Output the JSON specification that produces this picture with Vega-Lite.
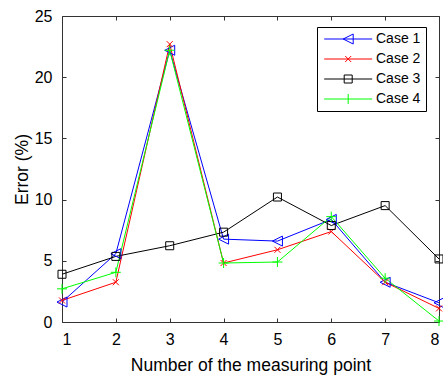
{
  "$schema": "https://vega.github.io/schema/vega-lite/v6.json",
  "width": 377,
  "height": 306,
  "autosize": {"type": "none"},
  "padding": {"left": 62, "top": 16, "right": 4, "bottom": 55},
  "background": "white",
  "config": {
    "view": {"stroke": "#333333", "strokeWidth": 1},
    "font": "Liberation Sans",
    "axis": {
      "domain": false,
      "grid": false,
      "tickColor": "#333333",
      "tickSize": -4,
      "labelFont": "Liberation Sans",
      "labelFontSize": 16,
      "labelColor": "#000000",
      "titleFont": "Liberation Sans",
      "titleFontSize": 17.5,
      "titleFontWeight": "normal",
      "titleColor": "#000000"
    }
  },
  "data": {
    "values": [
      {"case": "Case 1", "point": 1, "error": 1.63},
      {"case": "Case 1", "point": 2, "error": 5.58},
      {"case": "Case 1", "point": 3, "error": 22.2},
      {"case": "Case 1", "point": 4, "error": 6.77},
      {"case": "Case 1", "point": 5, "error": 6.61},
      {"case": "Case 1", "point": 6, "error": 8.38},
      {"case": "Case 1", "point": 7, "error": 3.25},
      {"case": "Case 1", "point": 8, "error": 1.57},
      {"case": "Case 2", "point": 1, "error": 1.76},
      {"case": "Case 2", "point": 2, "error": 3.25},
      {"case": "Case 2", "point": 3, "error": 22.7},
      {"case": "Case 2", "point": 4, "error": 4.82},
      {"case": "Case 2", "point": 5, "error": 5.9},
      {"case": "Case 2", "point": 6, "error": 7.39},
      {"case": "Case 2", "point": 7, "error": 3.25},
      {"case": "Case 2", "point": 8, "error": 1.11},
      {"case": "Case 3", "point": 1, "error": 3.9},
      {"case": "Case 3", "point": 2, "error": 5.36},
      {"case": "Case 3", "point": 3, "error": 6.23},
      {"case": "Case 3", "point": 4, "error": 7.34},
      {"case": "Case 3", "point": 5, "error": 10.21},
      {"case": "Case 3", "point": 6, "error": 7.88},
      {"case": "Case 3", "point": 7, "error": 9.51},
      {"case": "Case 3", "point": 8, "error": 5.15},
      {"case": "Case 4", "point": 1, "error": 2.71},
      {"case": "Case 4", "point": 2, "error": 4.06},
      {"case": "Case 4", "point": 3, "error": 22.2},
      {"case": "Case 4", "point": 4, "error": 4.82},
      {"case": "Case 4", "point": 5, "error": 4.9},
      {"case": "Case 4", "point": 6, "error": 8.61},
      {"case": "Case 4", "point": 7, "error": 3.58},
      {"case": "Case 4", "point": 8, "error": 0.08}
    ]
  },
  "layer": [
    {
      "mark": {"type": "line", "strokeWidth": 1},
      "encoding": {
        "x": {
          "field": "point",
          "type": "quantitative",
          "scale": {"domain": [1, 8], "nice": false, "zero": false},
          "axis": {
            "orient": "bottom",
            "values": [1, 2, 3, 4, 5, 6, 7, 8],
            "format": "d",
            "labelPadding": 13,
            "title": "Number of the measuring point",
            "titleY": 34,
            "titleBaseline": "top"
          }
        },
        "y": {
          "field": "error",
          "type": "quantitative",
          "scale": {"domain": [0, 25], "nice": false, "zero": false},
          "axis": {
            "orient": "left",
            "values": [0, 5, 10, 15, 20, 25],
            "format": "d",
            "labelPadding": 14,
            "title": "Error (%)",
            "titleX": -35,
            "titleY": 153,
            "titleAngle": -90,
            "titleAlign": "center",
            "titleBaseline": "alphabetic"
          }
        },
        "color": {
          "field": "case",
          "type": "nominal",
          "scale": {
            "domain": ["Case 1", "Case 2", "Case 3", "Case 4"],
            "range": ["#0000ff", "#ff0000", "#000000", "#00ff00"]
          },
          "legend": {
            "orient": "none",
            "legendX": 255,
            "legendY": 11,
            "title": null,
            "strokeColor": "#000000",
            "fillColor": "#ffffff",
            "padding": 5,
            "rowPadding": 6,
            "symbolSize": 100,
            "symbolStrokeWidth": 1,
            "symbolType": "M-0.96,0H8.64",
            "labelOffset": 40,
            "labelFont": "Liberation Sans",
            "labelFontSize": 14,
            "labelColor": "#000000",
            "encode": {
              "symbols": {
                "update": {
                  "shape": {
                    "signal": "datum.value === 'Case 1' ? 'M-0.96,0H8.64M2.84,0L4.84,-1L4.84,1Z' : datum.value === 'Case 2' ? 'M-0.96,0H8.64M3.24,-0.6L4.44,0.6M3.24,0.6L4.44,-0.6' : datum.value === 'Case 3' ? 'M-0.96,0H8.64M3.04,-0.8H4.64V0.8H3.04Z' : 'M-0.96,0H8.64M3.84,-1V1'"
                  },
                  "fill": {"value": "transparent"}
                }
              }
            }
          }
        }
      }
    },
    {
      "transform": [{"filter": "datum.case === 'Case 1'"}],
      "mark": {"type": "point", "filled": false, "size": 100, "strokeWidth": 1, "opacity": 1, "shape": "M-1,0L1,-1L1,1Z"},
      "encoding": {
        "x": {
          "field": "point",
          "type": "quantitative",
          "axis": {"orient": "top", "values": [1, 2, 3, 4, 5, 6, 7, 8], "labels": false, "title": null}
        },
        "y": {
          "field": "error",
          "type": "quantitative",
          "axis": {"orient": "right", "values": [0, 5, 10, 15, 20, 25], "labels": false, "title": null}
        },
        "color": {"field": "case", "type": "nominal", "legend": null}
      }
    },
    {
      "transform": [{"filter": "datum.case === 'Case 2'"}],
      "mark": {"type": "point", "filled": false, "size": 100, "strokeWidth": 1, "opacity": 1, "shape": "M-0.6,-0.6L0.6,0.6M-0.6,0.6L0.6,-0.6"},
      "encoding": {
        "x": {"field": "point", "type": "quantitative", "axis": null},
        "y": {"field": "error", "type": "quantitative", "axis": null},
        "color": {"field": "case", "type": "nominal", "legend": null}
      }
    },
    {
      "transform": [{"filter": "datum.case === 'Case 3'"}],
      "mark": {"type": "point", "filled": false, "size": 100, "strokeWidth": 1, "opacity": 1, "shape": "M-0.8,-0.8H0.8V0.8H-0.8Z"},
      "encoding": {
        "x": {"field": "point", "type": "quantitative", "axis": null},
        "y": {"field": "error", "type": "quantitative", "axis": null},
        "color": {"field": "case", "type": "nominal", "legend": null}
      }
    },
    {
      "transform": [{"filter": "datum.case === 'Case 4'"}],
      "mark": {"type": "point", "filled": false, "size": 100, "strokeWidth": 1, "opacity": 1, "shape": "M-1,0H1M0,-1V1"},
      "encoding": {
        "x": {"field": "point", "type": "quantitative", "axis": null},
        "y": {"field": "error", "type": "quantitative", "axis": null},
        "color": {"field": "case", "type": "nominal", "legend": null}
      }
    }
  ],
  "resolve": {"axis": {"x": "independent", "y": "independent"}}
}
